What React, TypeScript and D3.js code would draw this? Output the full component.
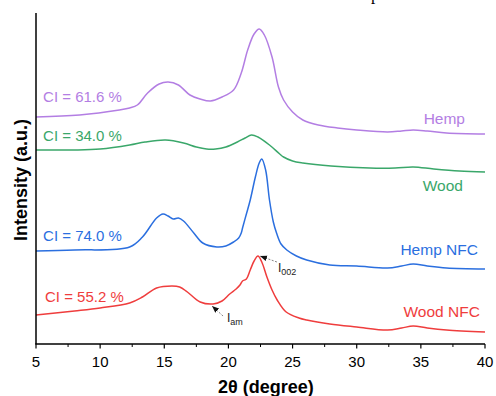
import React from "react";
import * as d3 from "d3";

const hempTheta = [5, 8.4, 11.5, 12.3, 12.9, 13.7, 14.6, 15.3, 16.1, 17.0, 17.8, 18.6, 19.5, 20.4, 21.0, 21.5, 22.0, 22.4, 22.8, 23.4, 23.9, 24.3, 25.0, 25.8, 27, 28.5, 30, 32.4, 33.5, 34.4, 35.5, 37, 40];
const hempI = [227, 229, 234, 236, 239, 251, 260, 262, 259, 249, 245, 243, 247, 254, 271, 294, 310, 315, 309, 287, 257, 244, 232, 224, 219, 216, 214, 212, 213, 214, 213, 211, 210];

const woodTheta = [5, 8, 10, 12.3, 13.5, 15.1, 16.5, 17.5, 18.3, 19.0, 19.8, 20.7, 21.3, 21.8, 22.3, 23.2, 24.0, 24.3, 25.0, 25.8, 28, 31, 33, 34.4, 36, 38, 40];
const woodI = [194, 194, 195, 199, 202, 204, 201, 197, 195, 195, 197, 202, 206, 209, 207, 199, 190, 187, 183, 181, 178, 176, 176, 177, 175, 173, 172];

const hempNfcTheta = [5, 8, 12.3, 13.3, 14.4, 14.9, 15.3, 15.7, 16.1, 16.5, 17.3, 18.0, 19.1, 19.8, 20.4, 20.8, 21.0, 21.1, 21.4, 21.7, 22.1, 22.4, 22.6, 22.9, 23.2, 23.5, 23.75, 24.1, 24.55, 25.3, 26.1, 27.9, 30, 32.4, 33.5, 34.4, 35.5, 37, 40];
const hempNfcI = [93, 94, 97, 107, 126, 130, 128, 125, 126, 123, 111, 101, 97, 98, 102, 106, 111, 116, 130, 144, 167, 181, 185, 174, 144, 122, 111, 100, 94, 88, 84, 79, 78, 76, 78, 80, 78, 76, 75];

const woodNfcTheta = [5, 8, 10, 12.3, 13.3, 14.4, 15.6, 16.2, 16.8, 17.8, 18.8, 19.5, 20.1, 20.6, 20.9, 21.1, 21.4, 21.7, 22.0, 22.3, 22.6, 23.0, 23.4, 23.8, 24.5, 25.5, 26.1, 27.9, 30, 32.4, 33.5, 34.4, 35.5, 37, 40];
const woodNfcI = [29, 33, 36, 41, 47, 56, 58, 57, 52, 42, 40, 43, 50, 55, 59, 63, 65, 74, 83, 88, 82, 67, 54, 44, 32, 26, 24, 20, 17, 14, 16, 18, 16, 14, 12];

const seriesNames = ["Hemp", "Wood", "Hemp NFC", "Wood NFC"];
const ciLabels = ["CI = 61.6 %", "CI = 34.0 %", "CI = 74.0 %", "CI = 55.2 %"];
const colors = ["#b37ee3", "#3aa76a", "#2b6fdf", "#ef3d3d"];
const xTicks = [5, 10, 15, 20, 25, 30, 35, 40];
const xMinorTicks = [7.5, 12.5, 17.5, 22.5, 27.5, 32.5, 37.5];

const W = 496, H = 396;
const x = d3.scaleLinear().domain([5, 40]).range([36, 485]);
const y = d3.scaleLinear().domain([0, 331]).range([344, 13]);

export default function App() {
  const thetas = [hempTheta, woodTheta, hempNfcTheta, woodNfcTheta];
  const ints = [hempI, woodI, hempNfcI, woodNfcI];
  const line = d3
    .line<[number, number]>()
    .x((d) => x(d[0]))
    .y((d) => y(d[1]))
    .curve(d3.curveCatmullRom.alpha(0.5));
  const ciPos = [[5.55, 242], [5.55, 203], [5.55, 103], [5.7, 42]];
  const namePos = [[38.44, 220], [38.28, 153], [39.45, 89], [39.6, 27]];
  const font = "Arial, 'Liberation Sans', sans-serif";
  return (
    <svg width={W} height={H} style={{ position: "absolute", left: 0, top: 0 }} fontFamily={font}>
      <defs>
        <marker id="ah" viewBox="0 0 10 10" refX="10" refY="5" markerWidth="7" markerHeight="7" orient="auto" markerUnits="userSpaceOnUse">
          <path d="M0,1 L10,5 L0,9 Z" fill="#111" />
        </marker>
      </defs>
      <rect width={W} height={H} fill="#fff" />
      <text x={371} y={-0.5} fontFamily="'Liberation Serif', serif" fontSize={17}>p</text>
      {thetas.map((t, i) => (
        <path key={i} d={line(t.map((v, j) => [v, ints[i][j]]) as [number, number][]) || ""} fill="none" stroke={colors[i]} strokeWidth={1.5} />
      ))}
      {ciLabels.map((c, i) => (
        <text key={c} x={x(ciPos[i][0])} y={y(ciPos[i][1])} fill={colors[i]} fontSize={15}>{c}</text>
      ))}
      {seriesNames.map((n, i) => (
        <text key={n} x={x(namePos[i][0])} y={y(namePos[i][1])} fill={colors[i]} fontSize={15.5} textAnchor="end">{n}</text>
      ))}
      {/* annotations */}
      <line x1={x(23.78)} y1={y(82)} x2={x(22.46)} y2={y(88)} stroke="#666" strokeWidth={0.8} strokeDasharray="2,1.5" markerEnd="url(#ah)" />
      <text x={x(23.86)} y={y(72)} fontSize={12} fill="#222">I<tspan fontSize={9} dy={3}>002</tspan></text>
      <line x1={x(19.58)} y1={y(28)} x2={x(18.72)} y2={y(38)} stroke="#666" strokeWidth={0.8} strokeDasharray="2,1.5" markerEnd="url(#ah)" />
      <text x={x(19.89)} y={y(22)} fontSize={12} fill="#222">I<tspan fontSize={9} dy={3}>am</tspan></text>
      {/* axes */}
      <line x1={x(5)} y1={13} x2={x(5)} y2={y(0)} stroke="#000" strokeWidth={1.5} />
      <line x1={x(5) - 0.75} y1={y(0)} x2={x(40)} y2={y(0)} stroke="#000" strokeWidth={1.5} />
      {xTicks.map((t) => (
        <g key={t}>
          <line x1={x(t)} x2={x(t)} y1={y(0)} y2={y(0) + 4.5} stroke="#000" strokeWidth={1.2} />
          <text x={x(t)} y={367} fontSize={15} textAnchor="middle">{t}</text>
        </g>
      ))}
      {xMinorTicks.map((t) => (
        <line key={t} x1={x(t)} x2={x(t)} y1={y(0)} y2={y(0) + 3} stroke="#000" strokeWidth={1} />
      ))}
      <text x={266} y={393} fontSize={18} fontWeight="bold" textAnchor="middle">2θ (degree)</text>
      <text transform="translate(27,180) rotate(-90)" fontSize={18} fontWeight="bold" textAnchor="middle">Intensity (a.u.)</text>
    </svg>
  );
}
